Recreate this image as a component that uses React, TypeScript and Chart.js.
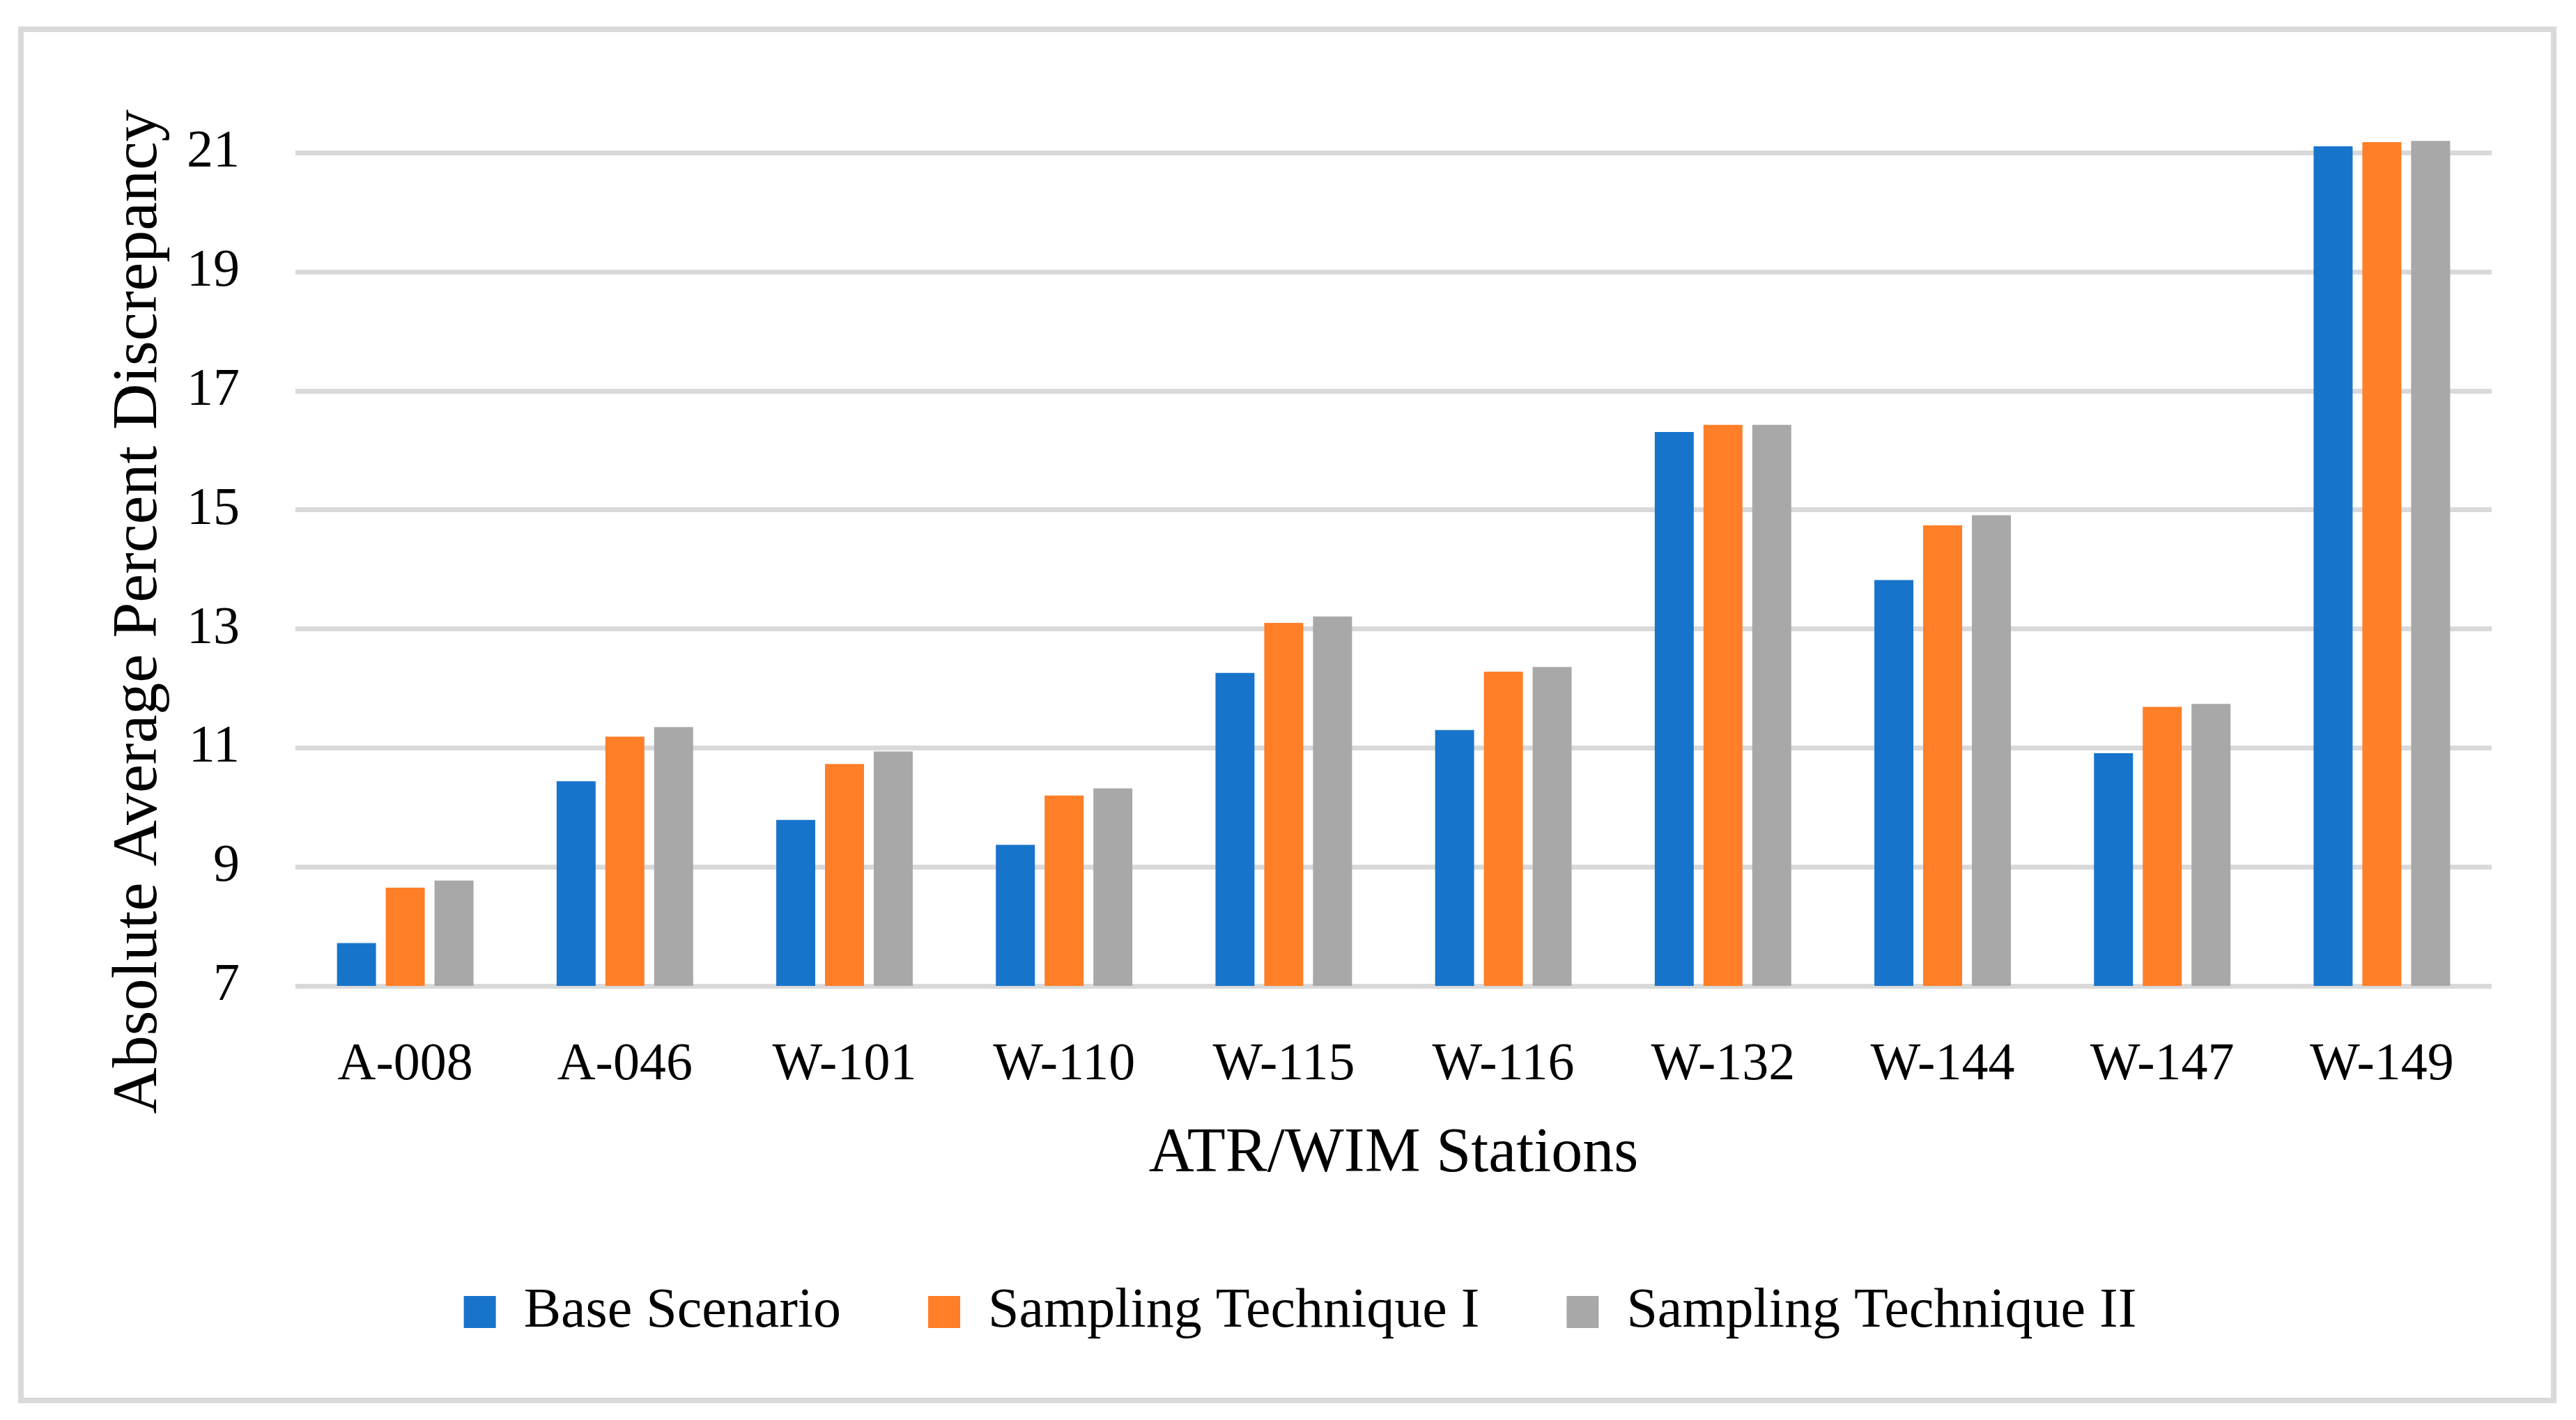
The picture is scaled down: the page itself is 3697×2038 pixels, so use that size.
import React, { useEffect, useRef } from "react";
import { Chart, registerables } from "chart.js";

Chart.register(...registerables);

const categories = ["A-008", "A-046", "W-101", "W-110", "W-115", "W-116", "W-132", "W-144", "W-147", "W-149"];
const baseScenario = [7.72, 10.44, 9.79, 9.37, 12.26, 11.3, 16.31, 13.82, 10.91, 21.11];
const samplingI = [8.65, 11.19, 10.73, 10.2, 13.1, 12.28, 16.43, 14.74, 11.69, 21.18];
const samplingII = [8.77, 11.35, 10.94, 10.32, 13.21, 12.36, 16.43, 14.91, 11.74, 21.2];
const seriesNames = ["Base Scenario", "Sampling Technique I", "Sampling Technique II"];
const seriesColors = ["#1874CB", "#FF7E28", "#A8A8A8"];
const yTicks = [7, 9, 11, 13, 15, 17, 19, 21];
const xTitle = "ATR/WIM Stations";
const yTitle = "Absolute Average Percent Discrepancy";

const FONT = '"Liberation Serif", "Times New Roman", serif';

const framePlugin = {
  id: "frame",
  beforeDraw(chart: any) {
    const ctx = chart.ctx;
    ctx.save();
    ctx.fillStyle = "#ffffff";
    ctx.fillRect(0, 0, chart.width, chart.height);
    ctx.strokeStyle = "#d9d9d9";
    ctx.lineWidth = 8;
    ctx.strokeRect(30, 42, 3635, 1968);
    ctx.restore();
  },
  afterDraw(chart: any) {
    const ctx = chart.ctx;
    ctx.save();
    ctx.translate(200, 878);
    ctx.rotate(-Math.PI / 2);
    ctx.font = `92px ${FONT}`;
    ctx.fillStyle = "#000000";
    ctx.textAlign = "center";
    ctx.textBaseline = "middle";
    ctx.fillText(yTitle, 0, 0);
    ctx.restore();
  },
};

export default function App() {
  const canvasRef = useRef<HTMLCanvasElement | null>(null);

  useEffect(() => {
    if (!canvasRef.current) return;
    const values = [baseScenario, samplingI, samplingII];
    const chart = new Chart(canvasRef.current, {
      type: "bar",
      data: {
        labels: categories,
        datasets: seriesNames.map((name, i) => ({
          label: name,
          data: values[i],
          backgroundColor: seriesColors[i],
          borderWidth: 0,
          categoryPercentage: 0.666,
          barPercentage: 0.8,
        })),
      },
      options: {
        animation: false,
        responsive: true,
        maintainAspectRatio: false,
        devicePixelRatio: 1,
        layout: { padding: { left: 156, right: 121, top: 134, bottom: 105 } },
        plugins: {
          tooltip: { enabled: false },
          title: { display: false },
          legend: {
            position: "bottom",
            labels: {
              boxWidth: 46,
              boxHeight: 46,
              padding: 125,
              color: "#000000",
              font: { family: FONT, size: 80 },
            },
          },
        },
        scales: {
          x: {
            grid: { display: false },
            border: { display: false },
            ticks: {
              padding: 60,
              color: "#000000",
              maxRotation: 0,
              autoSkip: false,
              font: { family: FONT, size: 76 },
            },
            title: {
              display: true,
              text: xTitle,
              color: "#000000",
              font: { family: FONT, size: 90 },
              padding: { top: 0, bottom: 7 },
            },
            afterFit: (scale: any) => {
              scale.height = 303;
            },
          },
          y: {
            min: 7,
            max: 22,
            afterBuildTicks: (scale: any) => {
              scale.ticks = yTicks.map((v) => ({ value: v }));
            },
            afterFit: (scale: any) => {
              scale.width = 268;
            },
            grid: { color: "#d9d9d9", lineWidth: 7, drawTicks: false },
            border: { display: false },
            ticks: {
              padding: 80,
              color: "#000000",
              font: { family: FONT, size: 76 },
            },
          },
        },
      },
      plugins: [framePlugin],
    });
    return () => chart.destroy();
  }, []);

  return (
    <div
      style={{
        position: "fixed",
        left: 0,
        top: 0,
        width: "3697px",
        height: "2038px",
        background: "#ffffff",
      }}
    >
      <canvas ref={canvasRef} style={{ display: "block" }} />
    </div>
  );
}
